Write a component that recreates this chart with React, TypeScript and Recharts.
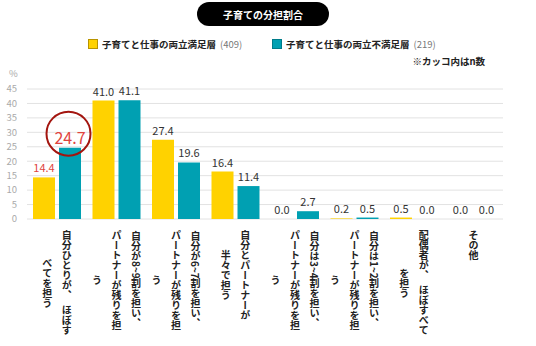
import React from "react";
import { Bar, BarChart, CartesianGrid, LabelList, XAxis, YAxis } from "recharts";

// 子育ての分担割合 (%)
const categoryLines: string[][] = [
  ["自分ひとりが、　ほぼす", "べてを担う"],
  ["自分が8~9割を担い、", "パートナーが残りを担", "う"],
  ["自分が6~7割を担い、", "パートナーが残りを担", "う"],
  ["自分とパートナーが", "半々で担う"],
  ["自分は3~4割を担い、", "パートナーが残りを担", "う"],
  ["自分は1~2割を担い、", "パートナーが残りを担", "う"],
  ["配偶者が、　ほぼすべて", "を担う"],
  ["その他"]
];
const categories = categoryLines.map((lines) => lines.join(""));
const satisfied = [14.4, 41.0, 27.4, 16.4, 0.0, 0.2, 0.5, 0.0];
const unsatisfied = [24.7, 41.1, 19.6, 11.4, 2.7, 0.5, 0.0, 0.0];
const yTicks = [0, 5, 10, 15, 20, 25, 30, 35, 40, 45];

const seriesNames = ["子育てと仕事の両立満足層", "子育てと仕事の両立不満足層"];
const seriesN = ["(409)", "(219)"];

const YELLOW = "#FFD200";
const TEAL = "#00A0B2";
const RED = "#E0443E";
const FONT = '"Noto Sans CJK JP", "Noto Sans", sans-serif';

const data = categories.map((name, i) => ({
  name,
  satisfied: satisfied[i],
  unsatisfied: unsatisfied[i]
}));

function CategoryTick({ x, y, index }: any) {
  const lines = categoryLines[index] ?? [];
  return (
    <foreignObject x={x - 40} y={y} width={80} height={120}>
      <div style={{ width: 80, height: 120, display: "flex", justifyContent: "center", alignItems: "flex-start" }}>
        <div
          style={{
            writingMode: "vertical-rl",
            textAlign: "center",
            fontFamily: FONT,
            fontSize: 10,
            lineHeight: "19.5px",
            color: "#222",
            fontWeight: 700,
            whiteSpace: "nowrap"
          }}
        >
          {lines.map((line, i) => (
            <React.Fragment key={i}>
              {i > 0 && <br />}
              {line}
            </React.Fragment>
          ))}
        </div>
      </div>
    </foreignObject>
  );
}

function valueLabel(first: "plain" | "red" | "circle") {
  return (props: any) => {
    const { x, y, width, value, index } = props;
    const cx = x + width / 2;
    const text = Number(value).toFixed(1);
    if (index === 0 && first === "circle") {
      return (
        <g>
          <circle cx={cx - 1.5} cy={y - 14} r={22} fill="none" stroke="#A3150F" strokeWidth={2} />
          <text x={cx} y={y - 4} textAnchor="middle" fill={RED} fontSize={16} fontFamily={FONT}>
            {text}
          </text>
        </g>
      );
    }
    return (
      <text
        x={cx}
        y={y - 5}
        textAnchor="middle"
        fill={index === 0 && first === "red" ? RED : "#333"}
        fontSize={11}
        fontFamily={FONT}
      >
        {text}
      </text>
    );
  };
}

export default function App() {
  return (
    <div style={{ position: "absolute", left: 0, top: 0, width: 536, height: 346, background: "#fff", fontFamily: FONT }}>
      <div
        style={{
          position: "absolute",
          left: 197,
          top: 2,
          width: 132,
          height: 24,
          borderRadius: 12,
          background: "#000",
          color: "#fff",
          fontSize: 10,
          fontWeight: 700,
          display: "flex",
          alignItems: "center",
          justifyContent: "center"
        }}
      >
        子育ての分担割合
      </div>
      {[0, 1].map((i) => (
        <div
          key={i}
          style={{
            position: "absolute",
            left: i === 0 ? 88 : 272,
            top: 37,
            height: 14,
            display: "flex",
            alignItems: "center",
            fontSize: 9.5,
            whiteSpace: "nowrap"
          }}
        >
          <span
            style={{
              width: 8,
              height: 8,
              background: i === 0 ? YELLOW : TEAL,
              border: `1px solid ${i === 0 ? "#B89400" : "#007C8A"}`,
              marginRight: 4
            }}
          />
          <span style={{ fontWeight: 700, color: "#222" }}>{seriesNames[i]}</span>
          <span style={{ color: "#777", marginLeft: 4 }}>{seriesN[i]}</span>
        </div>
      ))}
      <div style={{ position: "absolute", right: 51, top: 54, fontSize: 9.5, fontWeight: 700, color: "#222" }}>
        ※カッコ内はn数
      </div>
      <div style={{ position: "absolute", left: 9, top: 66, fontSize: 9.5, color: "#aaa" }}>%</div>
      <div style={{ position: "absolute", left: 0, top: 0 }}>
        <BarChart
          width={536}
          height={346}
          data={data}
          margin={{ top: 89, right: 33, bottom: 0, left: 0 }}
          barSize={22}
          barGap={4}
        >
          <CartesianGrid vertical={false} stroke="#E2E2E2" />
          <XAxis
            dataKey="name"
            height={127}
            axisLine={false}
            tickLine={false}
            tickSize={0}
            tickMargin={11}
            interval={0}
            tick={<CategoryTick />}
          />
          <YAxis
            width={27}
            domain={[0, 45]}
            ticks={yTicks}
            interval={0}
            axisLine={false}
            tickLine={false}
            tick={{ fill: "#AAA", fontSize: 9.5, fontFamily: FONT }}
            tickMargin={4}
          />
          <Bar dataKey="satisfied" fill={YELLOW} minPointSize={0.01} isAnimationActive={false}>
            <LabelList dataKey="satisfied" content={valueLabel("red")} />
          </Bar>
          <Bar dataKey="unsatisfied" fill={TEAL} minPointSize={0.01} isAnimationActive={false}>
            <LabelList dataKey="unsatisfied" content={valueLabel("circle")} />
          </Bar>
        </BarChart>
      </div>
    </div>
  );
}
